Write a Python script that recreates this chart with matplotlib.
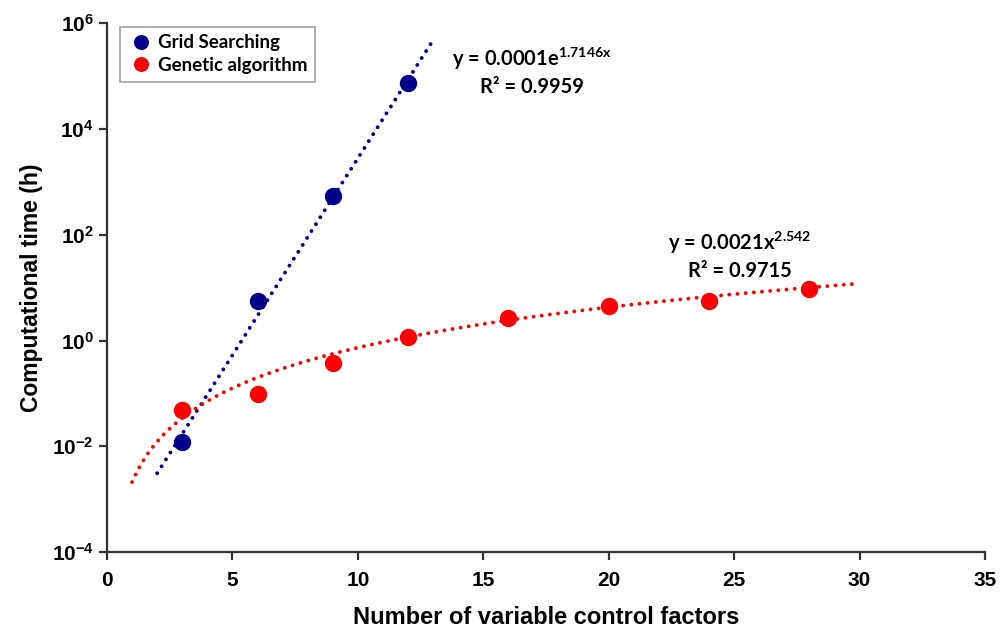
import numpy as np
import matplotlib.pyplot as plt
from matplotlib import ticker

plt.rcParams['mathtext.fontset'] = 'custom'
plt.rcParams['mathtext.bf'] = 'Liberation Sans:bold'
plt.rcParams['mathtext.it'] = 'Lato:bold'
plt.rcParams['mathtext.rm'] = 'Lato:bold'

# data
grid_x = [3, 6, 9, 12]
grid_y = [0.012, 5.5, 540, 74000]
ga_x = [3, 6, 9, 12, 16, 20, 24, 28]
ga_y = [0.049, 0.098, 0.37, 1.15, 2.7, 4.4, 5.7, 9.6]

# trendline coefficients as printed on the chart
grid_a, grid_b = 0.0001, 1.7146   # y = a*exp(b*x)
ga_a, ga_b = 0.0021, 2.542        # y = a*x^b
grid_range = (2, 13)
ga_range = (1, 30)

blue = '#00008b'
red = '#ff0000'

fig = plt.figure(figsize=(10, 6.28), dpi=100)
ax = fig.add_axes([0.107, 0.121, 0.878, 0.842])

dots = (0, (0.01, 2.1))
xs = np.linspace(*grid_range, 200)
ax.plot(xs, grid_a * np.exp(grid_b * xs), ls=dots, lw=2.8,
        color=blue, dash_capstyle='round')
xs = np.linspace(*ga_range, 300)
ax.plot(xs, ga_a * xs ** ga_b, ls=dots, lw=2.8,
        color=red, dash_capstyle='round')

ax.plot(grid_x, grid_y, 'o', ms=11.5, color=blue, label='Grid Searching')
ax.plot(ga_x, ga_y, 'o', ms=11.5, color=red, label='Genetic algorithm')

ax.set_yscale('log')
ax.set_xlim(0, 35)
ax.set_ylim(1e-4, 1e6)
ax.set_xticks(range(0, 36, 5))
ax.yaxis.set_major_locator(ticker.FixedLocator([1e-4, 1e-2, 1, 1e2, 1e4, 1e6]))
ax.yaxis.set_minor_locator(ticker.NullLocator())
ax.yaxis.set_major_formatter(ticker.FuncFormatter(
    lambda v, p: r'$\mathbf{10^{%d}}$' % round(np.log10(v))))

for s in ('top', 'right'):
    ax.spines[s].set_visible(False)
for s in ('left', 'bottom'):
    ax.spines[s].set_linewidth(1.6)
    ax.spines[s].set_color('#333333')
ax.tick_params(width=1.6, length=6, color='#333333', labelsize=15)
ax.tick_params(axis='x', pad=8)
for lbl in ax.get_xticklabels():
    lbl.set_fontfamily('Liberation Sans')
    lbl.set_fontweight('bold')

ax.set_xlabel('Number of variable control factors', fontsize=17,
              fontweight='bold', fontfamily='Liberation Sans', labelpad=11)
ax.set_ylabel('Computational time (h)', fontsize=16.5,
              fontweight='bold', fontfamily='Liberation Sans', labelpad=6)

leg = ax.legend(loc='upper left', bbox_to_anchor=(0.015, 0.993),
                prop={'family': 'Lato', 'weight': 'bold', 'size': 13.5},
                handletextpad=0.2, borderpad=0.4, labelspacing=0.3,
                handlelength=1.4, markerscale=0.85, fancybox=False,
                borderaxespad=0)
leg.get_frame().set_edgecolor('#888888')
leg.get_frame().set_linewidth(1.2)

def put(x, y, s):
    fig.text(x / 1000, 1 - y / 628, s, fontsize=14.5, fontfamily='Lato',
             fontweight='bold', ha='center', va='center')

put(532, 59, 'y = 0.0001e$^{1.7146x}$')
put(532, 87, 'R² = 0.9959')
put(740, 243, 'y = 0.0021x$^{2.542}$')
put(740, 271, 'R² = 0.9715')

fig.savefig('out.png', dpi=100)
